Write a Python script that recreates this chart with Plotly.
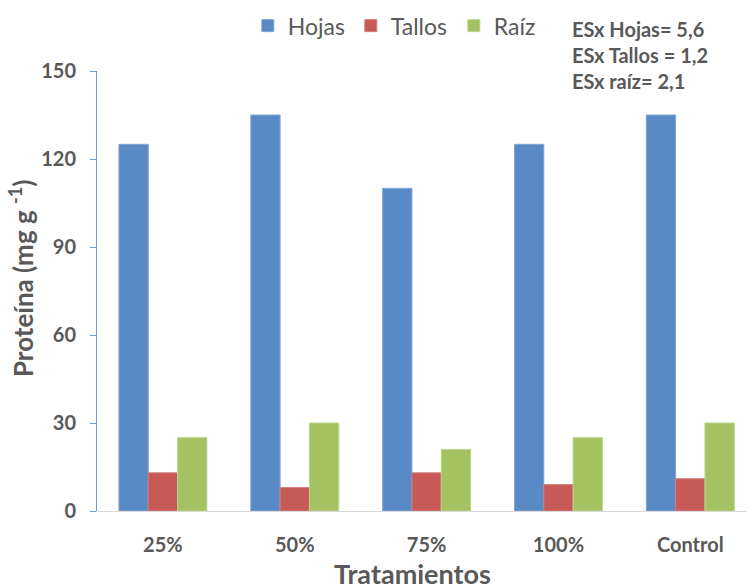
import plotly.graph_objects as go

# Treatments and protein content per plant organ
tratamientos = ["25%", "50%", "75%", "100%", "Control"]
hojas = [125, 135, 110, 125, 135]
tallos = [13, 8, 13, 9, 11]
raiz = [25, 30, 21, 25, 30]

y_ticks = [0, 30, 60, 90, 120, 150]
error_notes = ["ESx Hojas= 5,6", "ESx Tallos = 1,2", "ESx raíz= 2,1"]

FONT = "Lato"
GRAY = "#595959"

series = [
    ("Hojas", hojas, "#5A8AC5", "#7FA6D6"),
    ("Tallos", tallos, "#C75A56", "#D47C79"),
    ("Raíz", raiz, "#A5C263", "#BDD48A"),
]

fig = go.Figure()
for name, vals, color, edge in series:
    fig.add_trace(go.Bar(
        x=tratamientos, y=vals, name=name,
        marker=dict(color=color, line=dict(color=edge, width=1)),
    ))

fig.update_layout(
    width=747, height=588,
    margin=dict(l=97, r=0, t=71, b=77),
    paper_bgcolor="white", plot_bgcolor="white",
    barmode="group", bargap=0.333, bargroupgap=0,
    font=dict(family=FONT, color=GRAY),
    showlegend=True,
    legend=dict(
        orientation="h", x=0.232, xanchor="left",
        y=1.103, yanchor="middle",
        font=dict(size=23, color=GRAY, family=FONT),
        itemwidth=30, tracegroupgap=0,
        entrywidth=58, entrywidthmode="pixels",
        bgcolor="rgba(0,0,0,0)",
    ),
    xaxis=dict(
        range=[-0.5, 4.43],
        showline=True, linecolor="#D9D9D9", linewidth=1,
        ticks="", showgrid=False, zeroline=False,
        tickfont=dict(size=20, color=GRAY, family=FONT, weight="bold"),
        ticklabelstandoff=16,
    ),
    yaxis=dict(
        range=[0, 150], tickvals=y_ticks,
        showline=True, linecolor="#6C9BD2", linewidth=1,
        ticks="outside", ticklen=6, tickcolor="#6C9BD2",
        showgrid=False, zeroline=False,
        tickfont=dict(size=20, color=GRAY, family=FONT, weight="bold"),
        ticklabelstandoff=10,
    ),
)

# Axis titles
fig.add_annotation(
    text="Proteína (mg g <sup>-1</sup>)", textangle=-90,
    xref="paper", yref="paper", x=-0.115, y=0.53,
    xanchor="center", yanchor="middle", showarrow=False,
    font=dict(size=26, color=GRAY, family=FONT, weight="bold"),
)
fig.add_annotation(
    text="Tratamientos",
    xref="paper", yref="paper", x=0.485, y=-0.141,
    xanchor="center", yanchor="middle", showarrow=False,
    font=dict(size=27, color=GRAY, family=FONT, weight="bold"),
)

# Standard error notes
for i, note in enumerate(error_notes):
    fig.add_annotation(
        text=note, xref="paper", yref="paper",
        x=0.728, y=1.095 - i * 0.059,
        xanchor="left", yanchor="middle", showarrow=False,
        font=dict(size=20, color=GRAY, family=FONT, weight="bold"),
    )

fig.write_html("out.html")
